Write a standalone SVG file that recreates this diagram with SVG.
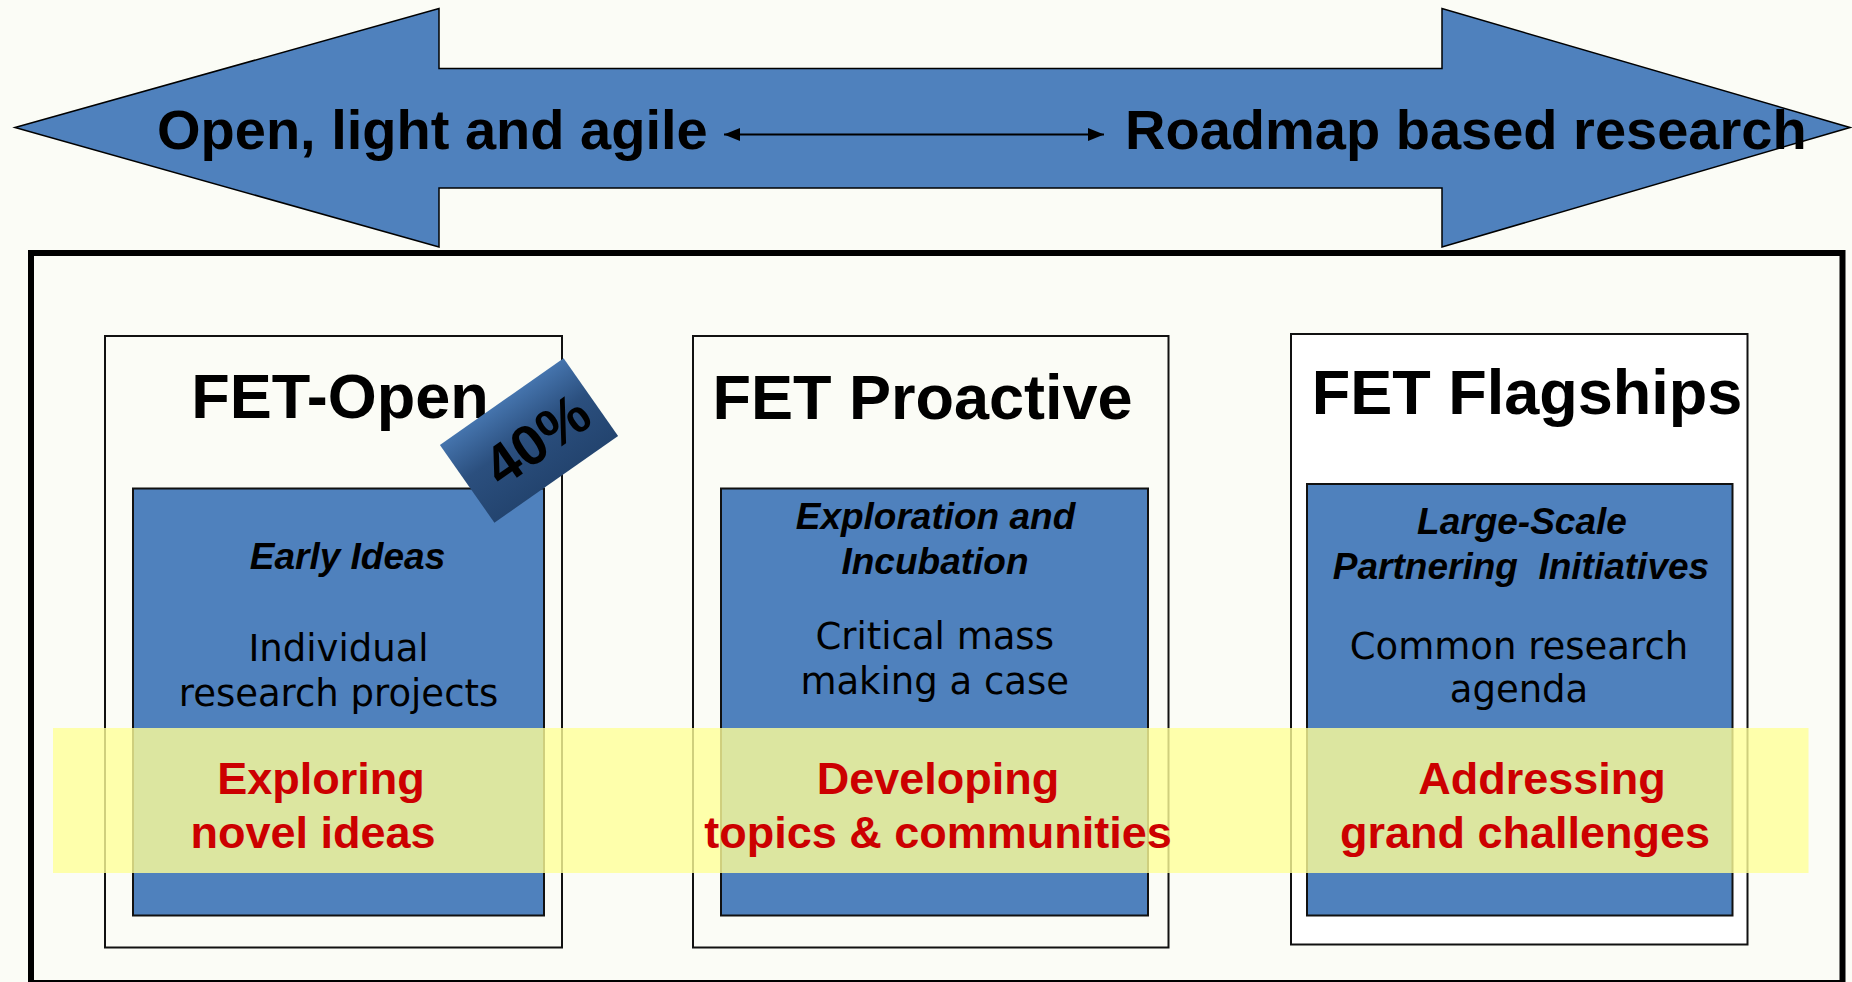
<svg xmlns="http://www.w3.org/2000/svg" width="1852" height="982" viewBox="0 0 1852 982">
<defs>
<style>
.bg{fill:#FBFCF6}
.big{fill:#4F81BD;stroke:#000;stroke-width:1.5;stroke-linejoin:miter}
.hdr{font-family:"Liberation Sans",Arial,sans-serif;font-weight:bold;font-size:56px;fill:#000}
.box{stroke:#111;stroke-width:2}
.blue{fill:#4F81BD;stroke:#111;stroke-width:2}
.title{font-family:"Liberation Sans",Arial,sans-serif;font-weight:bold;font-size:63px;fill:#000;text-anchor:middle}
.sub{font-family:"Liberation Sans",Arial,sans-serif;font-weight:bold;font-style:italic;font-size:37px;fill:#000;text-anchor:middle}
.body{font-family:"DejaVu Sans",Verdana,sans-serif;font-size:37px;fill:#000;text-anchor:middle}
.red{font-family:"Liberation Sans",Arial,sans-serif;font-weight:bold;font-size:45px;fill:#CC0000;text-anchor:middle}
</style>
<marker id="ah" viewBox="0 0 16 13" refX="16" refY="6.5" markerWidth="16" markerHeight="13" markerUnits="userSpaceOnUse" orient="auto-start-reverse">
<path d="M0,0 L16,6.5 L0,13 Z" fill="#000"/>
</marker>
<linearGradient id="badgeGrad" x1="0" y1="0" x2="0" y2="1">
<stop offset="0" stop-color="#4574AD"/>
<stop offset="0.45" stop-color="#2B4F7E"/>
<stop offset="1" stop-color="#23446F"/>
</linearGradient>
</defs>
<rect class="bg" x="0" y="0" width="1852" height="982"/>

<g id="scale-arrow">
<polygon class="big" points="15,127.5 439,8.5 439,68.5 1442,68.5 1442,8.5 1850,127.5 1442,247 1442,188 439,188 439,247"/>
<text class="hdr" x="157" y="149">Open, light and agile</text>
<text class="hdr" x="1125" y="149">Roadmap based research</text>
</g>

<g id="connectors">
<line x1="724" y1="134.5" x2="1104" y2="134.5" stroke="#000" stroke-width="2.2" marker-start="url(#ah)" marker-end="url(#ah)"/>
</g>

<g id="frame">
<rect x="31" y="253" width="1811.5" height="730" fill="none" stroke="#000" stroke-width="6"/>
</g>

<g id="fet-open">
<rect class="box" x="105" y="336" width="457" height="611.5" fill="#FBFCF6"/>
<rect class="blue" x="133" y="488.5" width="411" height="427"/>
<text class="title" x="340" y="417.5">FET-Open</text>
<text class="sub" x="347.5" y="569">Early Ideas</text>
<text class="body" x="338.5" y="661">Individual</text>
<text class="body" x="338.5" y="706">research projects</text>
</g>

<g id="fet-proactive">
<rect class="box" x="693" y="336" width="475.5" height="611.5" fill="#FBFCF6"/>
<rect class="blue" x="721" y="488.5" width="427" height="427"/>
<text class="title" x="922.5" y="419">FET Proactive</text>
<text class="sub" x="935.5" y="528.5">Exploration and</text>
<text class="sub" x="935" y="573.5">Incubation</text>
<text class="body" x="934.7" y="649">Critical mass</text>
<text class="body" x="934.7" y="694">making a case</text>
</g>

<g id="fet-flagships">
<rect class="box" x="1291" y="334" width="456.5" height="610.5" fill="#FFFFFF"/>
<rect class="blue" x="1307" y="484" width="425.5" height="431.5"/>
<text class="title" x="1527" y="414">FET Flagships</text>
<text class="sub" x="1522" y="533.5">Large-Scale</text>
<text class="sub" x="1521" y="578.5" xml:space="preserve">Partnering  Initiatives</text>
<text class="body" x="1519" y="659">Common research</text>
<text class="body" x="1519" y="701.5">agenda</text>
</g>

<g id="badge-40">
<g transform="translate(529,440.5) rotate(-35)">
<rect x="-75.5" y="-47.5" width="151" height="95" fill="url(#badgeGrad)"/>
<text x="7" y="23.5" text-anchor="middle" font-family="'Liberation Sans',Arial,sans-serif" font-weight="bold" font-size="57" fill="#000">40%</text>
</g>
</g>

<g id="highlight-band">
<rect x="53" y="728" width="1755.5" height="145" fill="#FFFF99" fill-opacity="0.8"/>
<text class="red" x="321" y="793.7">Exploring</text>
<text class="red" x="313" y="848">novel ideas</text>
<text class="red" x="938" y="793.7">Developing</text>
<text class="red" x="938" y="848">topics &amp; communities</text>
<text class="red" x="1542" y="793.7">Addressing</text>
<text class="red" x="1525" y="848">grand challenges</text>
</g>
</svg>
